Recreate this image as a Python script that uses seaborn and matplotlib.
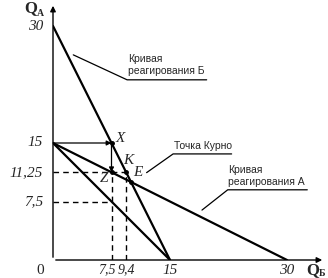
import matplotlib
matplotlib.use("Agg")
import matplotlib.pyplot as plt
import seaborn as sns
import pandas as pd

sns.set_style("white")
plt.rcParams['font.family'] = ['DejaVu Sans']

# Data
line_b_qb = [0, 15]; line_b_qa = [30, 0]      # Кривая реагирования Б
line_a_qb = [0, 30]; line_a_qa = [15, 0]      # Кривая реагирования А
line_c_qb = [0, 15]; line_c_qa = [15, 0]
pt_X = (7.5, 15); pt_Z = (7.5, 11.25); pt_K = (9.4, 11.25); pt_E = (10, 10)
yticks = [30, 15, 11.25, 7.5]; ytick_labels = ["30", "15", "11,25", "7,5"]
xticks = [7.5, 9.4, 15, 30]; xtick_labels = ["7,5", "9,4", "15", "30"]

W, H = 328, 278
fig = plt.figure(figsize=(W/100, H/100), dpi=100)
sc = 7.8
x0, y0 = 53, 18
xmax = (325 - x0) / sc
ymax = (H - 3 - y0) / sc
ax = fig.add_axes([x0/W, y0/H, (325 - x0)/W, (H - 3 - y0)/H])
ax.set_xlim(0, xmax); ax.set_ylim(0, ymax)
for s in ax.spines.values():
    s.set_visible(False)
ax.set_xticks([]); ax.set_yticks([])

df = pd.concat([
    pd.DataFrame({"qb": line_b_qb, "qa": line_b_qa, "l": "B"}),
    pd.DataFrame({"qb": line_a_qb, "qa": line_a_qa, "l": "A"}),
    pd.DataFrame({"qb": line_c_qb, "qa": line_c_qa, "l": "C"}),
])
sns.lineplot(data=df, x="qb", y="qa", units="l", estimator=None, color="black",
             lw=1.6, ax=ax, legend=False, sort=False)
ax.set_xlabel(""); ax.set_ylabel("")

# axes with arrows
ap = dict(arrowstyle='-|>', color='black', lw=1.0, mutation_scale=8)
ax.annotate("", xy=(xmax, 0), xytext=(0, 0), arrowprops=ap, annotation_clip=False)
ax.annotate("", xy=(0, ymax), xytext=(0, 0), arrowprops=ap, annotation_clip=False)

# dashed guides
dash = dict(color='black', lw=1.0, ls=(0, (4, 3)))
ax.plot([0, pt_K[0]], [pt_K[1], pt_K[1]], **dash)
ax.plot([pt_K[0], pt_K[0]], [0, pt_K[1]], **dash)
ax.plot([pt_Z[0], pt_Z[0]], [0, pt_Z[1]], **dash)
ax.plot([0, 7.5], [7.5, 7.5], **dash)

# adjustment arrows
ap2 = dict(arrowstyle='-|>', color='black', lw=0.9, mutation_scale=7, shrinkA=0, shrinkB=0)
ax.annotate("", xy=pt_X, xytext=(0, 15), arrowprops=ap2)
ax.annotate("", xy=pt_Z, xytext=pt_X, arrowprops=ap2)

# points
ax.plot([pt_X[0], pt_Z[0], pt_K[0], pt_E[0]], [pt_X[1], pt_Z[1], pt_K[1], pt_E[1]],
        'o', color='black', ms=2.5)

serif_it = dict(family='Liberation Serif', style='italic', fontsize=11)
ax.text(8.6, 15.6, "X", ha='center', va='center', **serif_it)
ax.text(9.7, 12.8, "K", ha='center', va='center', **serif_it)
ax.text(10.9, 11.2, "E", ha='center', va='center', **serif_it)
ax.text(6.5, 10.4, "Z", ha='center', va='center', **serif_it)

# tick labels
ylab_x = -1.3
for v, t in zip(yticks, ytick_labels):
    ax.text(ylab_x, v, t, ha='right', va='center', **serif_it)
xlab_y = -1.3
xlab_pos = [6.9, 9.4, 15, 30]
xlab_fs = [10, 10, 11, 11]
for p, t, fs in zip(xlab_pos, xtick_labels, xlab_fs):
    ax.text(p, xlab_y, t, ha='center', va='center', family='Liberation Serif',
            style='italic', fontsize=fs)
ax.text(-1.7, xlab_y, "0", ha='center', va='center', family='Liberation Serif', fontsize=11)

# axis labels
ax.text(-2.9, 32.3, "Q", ha='center', va='center', family='Liberation Serif', fontsize=12, fontweight='bold')
ax.text(-1.6, 31.6, "A", ha='center', va='center', family='Liberation Serif', fontsize=7, fontweight='bold')
ax.text(33.3, xlab_y, "Q", ha='center', va='center', family='Liberation Serif', fontsize=12, fontweight='bold')
ax.text(34.5, -1.7, "Б", ha='center', va='center', family='Liberation Serif', fontsize=7, fontweight='bold')

# annotations
sans = dict(family='Liberation Sans', fontsize=7.5)
ax.plot([2.6, 9.5, 19.7], [26.3, 23.1, 23.1], color='black', lw=0.9)
ax.text(9.6, 23.6, "Кривая\nреагирования Б", va='bottom', linespacing=1.2, **sans)

ax.plot([12.0, 15.4, 22.9], [11.2, 13.6, 13.6], color='black', lw=0.9)
ax.text(15.5, 14.0, "Точка Курно", va='bottom', **sans)

ax.plot([19.1, 22.4, 32.6], [6.4, 9.0, 9.0], color='black', lw=0.9)
ax.text(22.5, 9.4, "Кривая\nреагирования А", va='bottom', linespacing=1.2, **sans)

fig.savefig("out.png", dpi=100)
